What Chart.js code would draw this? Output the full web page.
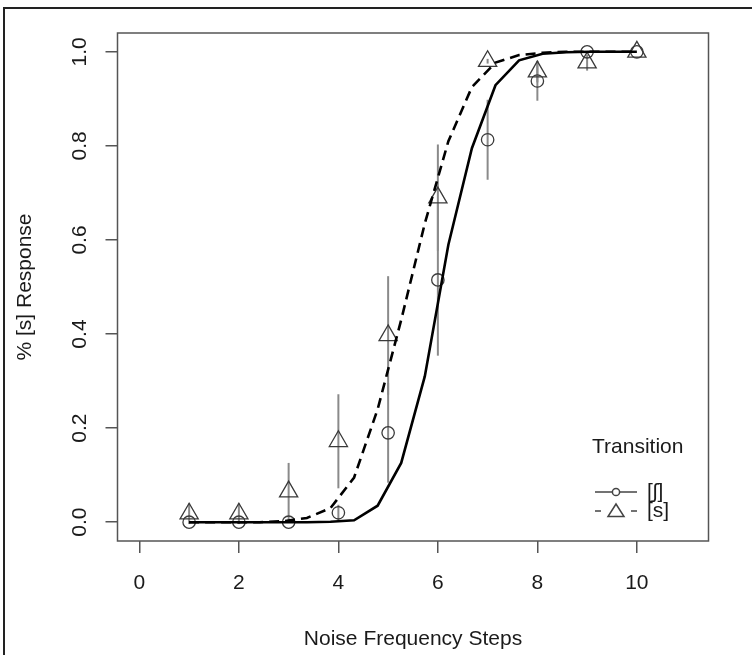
<!DOCTYPE html>
<html><head><meta charset="utf-8">
<script src="https://cdn.jsdelivr.net/npm/chart.js@4"></script>
<style>html,body{margin:0;padding:0;background:#fff}#wrap{width:752px;height:655px;position:relative}</style>
</head><body><div id="wrap"><canvas id="c" width="752" height="655"></canvas></div>
<script>
// ---- data ----
const steps = [1, 2, 3, 4, 5, 6, 7, 8, 9, 10];
const shResp = [0, 0, 0, 0.02, 0.19, 0.515, 0.813, 0.938, 1.0, 1.0];
const shErr  = [0, 0, 0, 0.017, 0.106, 0.161, 0.085, 0.042, 0, 0];
const sResp  = [0.018, 0.018, 0.065, 0.172, 0.397, 0.69, 0.98, 0.958, 0.977, 1.0];
const sErr   = [0.022, 0.022, 0.061, 0.10, 0.126, 0.113, 0.005, 0.023, 0.017, 0];
const fitX  = [1, 1.474, 1.947, 2.421, 2.895, 3.368, 3.842, 4.316, 4.789, 5.263, 5.737, 6.211, 6.684, 7.158, 7.632, 8.105, 8.579, 9.053, 9.526, 10];
const fitSh = [0, 0, 0, 0, 0, 0, 0.001, 0.004, 0.035, 0.126, 0.31, 0.59, 0.795, 0.929, 0.982, 0.996, 0.999, 1, 1, 1];
const fitS  = [0, 0, 0, 0, 0.002, 0.009, 0.03, 0.095, 0.24, 0.43, 0.635, 0.81, 0.925, 0.977, 0.993, 0.998, 1, 1, 1, 1];
const xTicks = [0, 2, 4, 6, 8, 10];
const yTicks = [0, 0.2, 0.4, 0.6, 0.8, 1.0];
const yTickLabels = ['0.0', '0.2', '0.4', '0.6', '0.8', '1.0'];
const xTitle = 'Noise Frequency Steps';
const yTitle = '% [s] Response';
const legendTitle = 'Transition';
const seriesNames = ['[ʃ]', '[s]'];

const FONT = "'Liberation Sans', Arial, Helvetica, sans-serif";
const FS = 21;
const TXT = '#1a1a1a';
const pts = (xs, ys) => xs.map((x, i) => ({ x: x, y: ys[i] }));

const deco = {
  id: 'deco',
  beforeDraw(chart) {
    const c = chart.ctx;
    c.save();
    c.fillStyle = '#fff';
    c.fillRect(0, 0, chart.width, chart.height);
    c.strokeStyle = '#222';
    c.lineWidth = 2;
    c.beginPath();
    c.moveTo(4, chart.height + 5);
    c.lineTo(4, 8);
    c.lineTo(chart.width + 5, 8);
    c.stroke();
    c.restore();
  },
  beforeDatasetsDraw(chart) {
    const c = chart.ctx, xs = chart.scales.x, ys = chart.scales.y;
    c.save();
    c.strokeStyle = '#8a8a8a';
    c.lineWidth = 2;
    const bars = (resp, err) => {
      steps.forEach((s, i) => {
        if (!err[i]) return;
        const px = xs.getPixelForValue(s);
        c.beginPath();
        c.moveTo(px, ys.getPixelForValue(resp[i] - err[i]));
        c.lineTo(px, ys.getPixelForValue(resp[i] + err[i]));
        c.stroke();
      });
    };
    bars(shResp, shErr);
    bars(sResp, sErr);
    c.restore();
  },
  afterDraw(chart) {
    const c = chart.ctx, a = chart.chartArea, ys = chart.scales.y;
    c.save();
    // plot box
    c.strokeStyle = '#555';
    c.lineWidth = 1.5;
    c.strokeRect(a.left, a.top, a.right - a.left, a.bottom - a.top);
    // y tick labels (rotated, R style)
    c.fillStyle = TXT;
    c.font = FS + 'px ' + FONT;
    c.textAlign = 'center';
    c.textBaseline = 'middle';
    yTicks.forEach((v, i) => {
      const py = ys.getPixelForValue(v);
      c.save();
      c.translate(80, py);
      c.rotate(-Math.PI / 2);
      c.fillText(yTickLabels[i], 0, 0);
      c.restore();
    });
    // legend
    c.textAlign = 'left';
    c.fillText(legendTitle, 592, 447);
    c.strokeStyle = '#444';
    c.lineWidth = 1.5;
    // row 1
    c.beginPath(); c.moveTo(595, 492); c.lineTo(637, 492); c.stroke();
    c.beginPath(); c.arc(616, 492, 3.6, 0, Math.PI * 2);
    c.fillStyle = '#fff'; c.fill(); c.stroke();
    c.fillStyle = TXT;
    c.fillText(seriesNames[0], 647, 492);
    // row 2
    c.beginPath(); c.moveTo(595, 511); c.lineTo(601, 511); c.moveTo(631, 511); c.lineTo(637, 511); c.stroke();
    c.beginPath(); c.moveTo(616, 504); c.lineTo(624, 516.5); c.lineTo(608, 516.5); c.closePath(); c.stroke();
    c.fillText(seriesNames[1], 647, 511);
    c.restore();
  }
};

new Chart(document.getElementById('c'), {
  type: 'line',
  data: {
    datasets: [
      { label: seriesNames[0] + ' fit', data: pts(fitX, fitSh), borderColor: '#000', borderWidth: 2.6, pointRadius: 0, tension: 0, fill: false },
      { label: seriesNames[1] + ' fit', data: pts(fitX, fitS), borderColor: '#000', borderWidth: 2.6, borderDash: [10, 6], pointRadius: 0, tension: 0, fill: false },
      { label: seriesNames[0], data: pts(steps, shResp), showLine: false, pointStyle: 'circle', pointRadius: 6.2, pointBorderWidth: 1.3, pointBorderColor: '#3a3a3a', pointBackgroundColor: 'rgba(0,0,0,0)' },
      { label: seriesNames[1], data: pts(steps, sResp), showLine: false, pointStyle: 'triangle', pointRadius: 10.5, pointBorderWidth: 1.3, pointBorderColor: '#3a3a3a', pointBackgroundColor: 'rgba(0,0,0,0)' }
    ]
  },
  options: {
    responsive: false,
    animation: false,
    devicePixelRatio: 1,
    layout: { padding: { left: 0, right: 43.5, top: 33, bottom: 0 } },
    plugins: { legend: { display: false }, tooltip: { enabled: false } },
    scales: {
      x: {
        type: 'linear', min: -0.44, max: 11.44,
        afterBuildTicks: s => { s.ticks = xTicks.map(v => ({ value: v })); },
        afterFit: s => { s.height = 114; },
        grid: { drawOnChartArea: false, drawTicks: true, tickLength: 12, color: '#555', lineWidth: 1.5 },
        border: { display: false },
        ticks: { font: { family: FONT, size: FS }, color: TXT, padding: 18, maxRotation: 0, minRotation: 0 },
        title: { display: true, text: xTitle, font: { family: FONT, size: FS }, color: TXT, padding: { top: 0, bottom: 3 } }
      },
      y: {
        type: 'linear', min: -0.04, max: 1.04,
        afterBuildTicks: s => { s.ticks = yTicks.map(v => ({ value: v })); },
        afterFit: s => { s.width = 117.5; },
        grid: { drawOnChartArea: false, drawTicks: true, tickLength: 12, color: '#555', lineWidth: 1.5 },
        border: { display: false },
        ticks: { display: false },
        title: { display: true, text: yTitle, font: { family: FONT, size: FS }, color: TXT, padding: { top: 12.4, bottom: 0 } }
      }
    }
  },
  plugins: [deco]
});
</script>
</body></html>
